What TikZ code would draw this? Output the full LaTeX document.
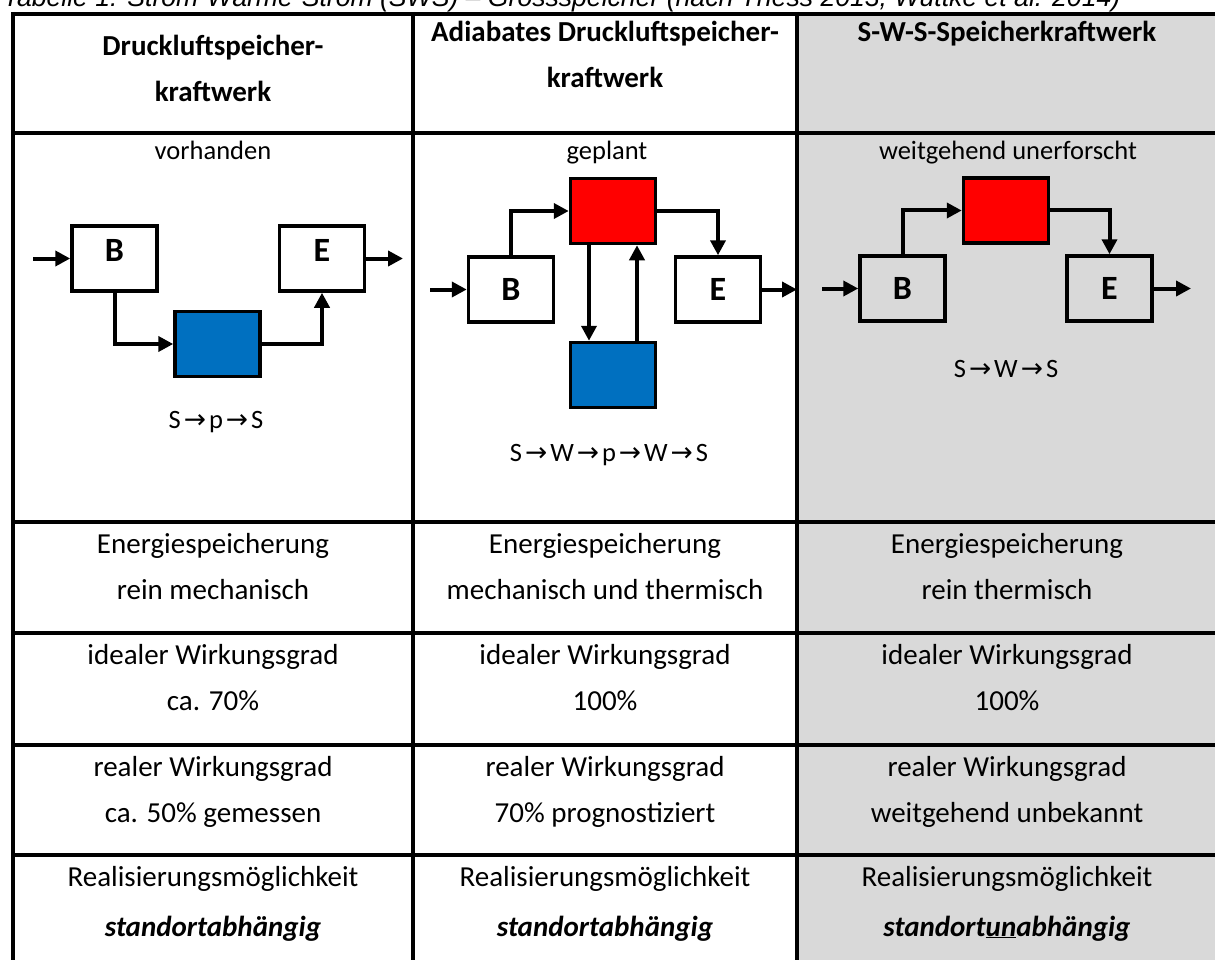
\documentclass[tikz,border=0pt]{standalone}
\usepackage{fontspec}
\setmainfont{Carlito}
\newfontfamily\titlefont{Liberation Sans}
\newfontfamily\arrowfont{DejaVu Sans}
\usetikzlibrary{arrows.meta}
\definecolor{cellgray}{HTML}{D9D9D9}
\definecolor{storeblue}{HTML}{0070C0}
\definecolor{storered}{HTML}{FF0000}
\newcommand{\conv}{\hspace{3pt}{\arrowfont →}\hspace{3pt}}

\begin{document}
\begin{tikzpicture}[x=1pt,y=-1pt,
  tabline/.style={line width=4pt},
  blk/.style={draw,line width=3.5pt,minimum width=85pt,minimum height=65pt,inner sep=0pt,font=\fontsize{34}{40}\selectfont\bfseries},
  blkhi/.style={blk,text depth=16pt},
  store/.style={draw,line width=3.5pt,minimum width=85pt,minimum height=65pt,inner sep=0pt},
  flow/.style={line width=4pt,-{Triangle[length=15pt,width=15pt]}},
  txt/.style={anchor=base,inner sep=0pt,font=\fontsize{29}{35}\selectfont},
  head/.style={anchor=base,inner sep=0pt,font=\fontsize{29}{35}\selectfont\bfseries},
  note/.style={anchor=base,inner sep=0pt,font=\fontsize{26.5}{32}\selectfont}]
\useasboundingbox (0,0) rectangle (1215,960);
\fill[cellgray] (797,14) rectangle (1220,970);
\node[anchor=base west,inner sep=0pt,font=\titlefont\itshape\fontsize{26.6}{30}\selectfont] (title) at (3,7)
  {Tabelle 1: Strom-Wärme-Strom (SWS) – Grossspeicher (nach Thess 2013, Wuttke et al. 2014)};
\draw[tabline] (11,14) -- (1220,14);
\draw[tabline] (11,133) -- (1220,133);
\draw[tabline] (11,522) -- (1220,522);
\draw[tabline] (11,633) -- (1220,633);
\draw[tabline] (11,745) -- (1220,745);
\draw[tabline] (11,855) -- (1220,855);
\draw[tabline] (13,12) -- (13,970);
\draw[tabline] (413,12) -- (413,970);
\draw[tabline] (797,12) -- (797,970);
\node[head] (h1a) at (213,56) {Druckluftspeicher-};
\node[head] (h1b) at (213,102) {kraftwerk};
\node[head] (h2a) at (605,42) {Adiabates Druckluftspeicher-};
\node[head] (h2b) at (605,88) {kraftwerk};
\node[head] (h3a) at (1007,42) {S-W-S-Speicherkraftwerk};
\node[note] (st1) at (213,160) {vorhanden};
\node[note] (st2) at (607,160) {geplant};
\node[note] (st3) at (1008,160) {weitgehend unerforscht};
\node[blkhi] (b1) at (114.5,258.5) {B};
\node[blkhi] (e1) at (322,258.5) {E};
\node[store,fill=storeblue] (p1) at (217.5,344) {};
\coordinate (in1) at (33,258.5);
\coordinate (out1) at (403,258.5);
\draw[flow] (in1) -- (b1.west);
\draw[flow] (e1.east) -- (out1);
\draw[flow] (b1.south) |- (p1.west);
\draw[flow] (p1.east) -| (e1.south);
\node[note] (ch1) at (216,428) {S\conv p\conv S};
\node[blk] (b2) at (511,289.5) {B};
\node[blk] (e2) at (718,289.5) {E};
\node[store,fill=storered] (w2) at (613,211) {};
\node[store,fill=storeblue] (p2) at (613,375) {};
\coordinate (in2) at (430,289.5);
\coordinate (out2) at (797,289.5);
\draw[flow] (in2) -- (b2.west);
\draw[flow] (e2.east) -- (out2);
\draw[flow] (b2.north) |- (w2.west);
\draw[flow] (w2.east) -| (e2.north);
\draw[flow] ([xshift=-24pt]w2.south) -- ([xshift=-24pt]p2.north);
\draw[flow] ([xshift=24pt]p2.north) -- ([xshift=24pt]w2.south);
\node[note] (ch2) at (609,461) {S\conv W\conv p\conv W\conv S};
\node[blk] (b3) at (902.5,288.5) {B};
\node[blk] (e3) at (1109.5,288.5) {E};
\node[store,fill=storered] (w3) at (1006,210.5) {};
\coordinate (in3) at (822,288.5);
\coordinate (out3) at (1191,288.5);
\draw[flow] (in3) -- (b3.west);
\draw[flow] (e3.east) -- (out3);
\draw[flow] (b3.north) |- (w3.west);
\draw[flow] (w3.east) -| (e3.north);
\node[note] (ch3) at (1006,377) {S\conv W\conv S};
\node[txt] (r1c1a) at (213,553) {Energiespeicherung};
\node[txt] (r1c1b) at (213,599) {rein mechanisch};
\node[txt] (r1c2a) at (605,553) {Energiespeicherung};
\node[txt] (r1c2b) at (605,599) {mechanisch und thermisch};
\node[txt] (r1c3a) at (1007,553) {Energiespeicherung};
\node[txt] (r1c3b) at (1007,599) {rein thermisch};
\node[txt] (r2c1a) at (213,664) {idealer Wirkungsgrad};
\node[txt] (r2c1b) at (213,710) {ca. 70\%};
\node[txt] (r2c2a) at (605,664) {idealer Wirkungsgrad};
\node[txt] (r2c2b) at (605,710) {100\%};
\node[txt] (r2c3a) at (1007,664) {idealer Wirkungsgrad};
\node[txt] (r2c3b) at (1007,710) {100\%};
\node[txt] (r3c1a) at (213,776) {realer Wirkungsgrad};
\node[txt] (r3c1b) at (213,822) {ca. 50\% gemessen};
\node[txt] (r3c2a) at (605,776) {realer Wirkungsgrad};
\node[txt] (r3c2b) at (605,822) {70\% prognostiziert};
\node[txt] (r3c3a) at (1007,776) {realer Wirkungsgrad};
\node[txt] (r3c3b) at (1007,822) {weitgehend unbekannt};
\node[txt] (r4c1a) at (213,886) {Realisierungsmöglichkeit};
\node[txt] (r4c1b) at (213,936) {\bfseries\itshape standortabhängig};
\node[txt] (r4c2a) at (605,886) {Realisierungsmöglichkeit};
\node[txt] (r4c2b) at (605,936) {\bfseries\itshape standortabhängig};
\node[txt] (r4c3a) at (1007,886) {Realisierungsmöglichkeit};
\node[txt] (r4c3b) at (1007,936) {\bfseries\itshape standort\underline{un}abhängig};
\end{tikzpicture}
\end{document}
